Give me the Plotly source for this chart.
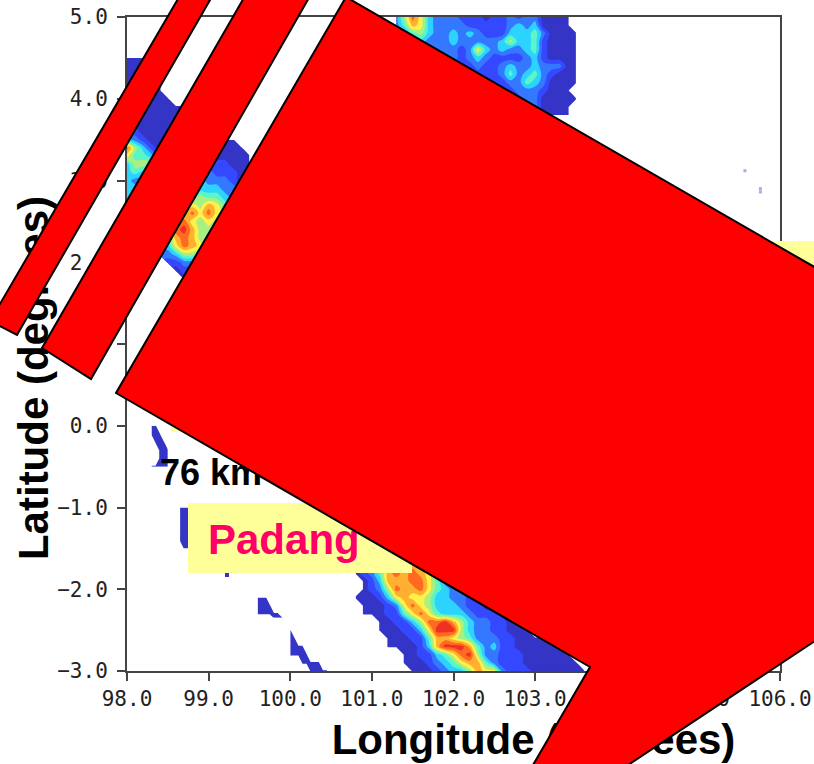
import plotly.graph_objects as go

_ = None
# ---- readings of the gridded field (rainfall class 1..10) ----
west_lon = [98.0, 98.1, 98.2, 98.3, 98.4, 98.5, 98.6, 98.7]
west_lat = [4.5, 4.4, 4.3, 4.2, 4.1, 4.0, 3.9, 3.8, 3.7, 3.6, 3.5, 3.4, 3.3, 3.2, 3.1, 3.0, 2.9, 2.8, 2.7]
west_z = [
    [1, 1, 1, 1, _, _, _, _],
    [1, 1, 1, 1, _, _, _, _],
    [1, 1, 1, 1, _, _, _, _],
    [1, 1, 1, 1, 1, _, _, _],
    [1, 1, 1, 1, 1, _, _, _],
    [1, 1, 1, 1, 1, 1, _, _],
    [1, 1, 1, 1, 1, 1, 1, 1],
    [1, 1, 1, 1, 1, 1, 1, 1],
    [1, 1, 1, 1, 1, 1, 1, 1],
    [1, 2, 1, 1, 1, 1, 1, 1],
    [4, 3, 2, 1, 1, 1, 1, _],
    [9, 6, 4, 2, 1, 1, _, _],
    [7, 5, 5, 4, 2, 2, _, _],
    [4, 6, 6, 6, 3, _, _, _],
    [4, 5, 4, 3, _, _, _, _],
    [4, 3, 3, _, _, _, _, _],
    [4, 4, _, _, _, _, _, _],
    [4, 3, _, _, _, _, _, _],
    [3, 3, _, _, _, _, _, _],
]

mid_lon = [98.4, 98.5, 98.6, 98.7, 98.8, 98.9, 99.0, 99.1, 99.2, 99.3, 99.4, 99.5]
mid_lat = [3.5, 3.4, 3.3, 3.2, 3.1, 3.0, 2.9, 2.8, 2.7, 2.6, 2.5, 2.4, 2.3, 2.2, 2.1, 2.0, 1.9, 1.8]
mid_z = [
    [_, _, _, _, _, _, _, 1, 1, 1, _, _],
    [_, _, _, _, _, _, 1, 1, 1, 1, 1, _],
    [_, _, _, _, _, 1, 1, 1, 1, 1, 1, 1],
    [_, _, _, _, _, 2, 2, 2, 2, 1, 1, 1],
    [_, _, _, _, 3, 3, 3, 2, 2, 2, 1, 1],
    [_, _, _, _, 4, 4, 3, 3, 3, 2, 1, _],
    [_, _, _, _, 5, 4, 4, 4, 3, 3, _, _],
    [_, _, _, 5, 5, 6, 5, 5, 4, 3, _, _],
    [_, _, _, 6, 7, 6, 8, 7, 5, _, _, _],
    [_, _, _, 7, 9, 7, 9, 7, 6, _, _, _],
    [_, _, 8, 9, 7, 6, 7, 6, _, _, _, _],
    [_, _, 9, 10, 8, 6, 6, 5, _, _, _, _],
    [_, 5, 8, 9, 8, 6, 6, _, _, _, _, _],
    [_, 4, 7, 9, 8, 7, _, _, _, _, _, _],
    [3, 3, 4, 6, 6, 5, _, _, _, _, _, _],
    [_, 2, 2, 3, 3, 3, _, _, _, _, _, _],
    [_, _, 1, 2, 2, _, _, _, _, _, _, _],
    [_, _, _, 1, 1, _, _, _, _, _, _, _],
]

north_lon = [101.3 + 0.1 * i for i in range(23)]
north_lat = [5.0, 4.9, 4.8, 4.7, 4.6, 4.5, 4.4, 4.3, 4.2, 4.1, 4.0, 3.9, 3.8]
north_z = [
    [3, 6, 9, 7, 4, 3, 3, 3, 2, 2, 2, 1, 2, 2, 3, 2, 3, 3, 1, 1, 1, 1, _],
    [3, 5, 8, 7, 4, 3, 3, 3, 3, 2, 2, 2, 2, 2, 3, 4, 3, 4, 1, 1, 1, 1, _],
    [3, 3, 5, 6, 4, 3, 3, 4, 3, 4, 3, 2, 2, 2, 4, 4, 4, 5, 3, 1, 1, 1, 1],
    [2, 3, 3, 4, 3, 3, 3, 4, 3, 3, 3, 3, 3, 4, 6, 4, 4, 5, 2, 1, 1, 1, 1],
    [2, 2, 2, 3, 3, 3, 3, 3, 2, 3, 7, 4, 3, 4, 3, 3, 4, 5, 2, 1, 1, 1, 1],
    [2, 2, 2, 2, 2, 2, 2, 3, 2, 3, 4, 3, 2, 2, 2, 2, 3, 4, 2, 1, 1, 1, 1],
    [2, 2, 2, 2, 2, 2, 2, 2, 2, 2, 3, 2, 2, 3, 4, 3, 3, 4, 3, 3, 3, 1, 1],
    [2, 2, 2, 2, 2, 2, 2, 2, 2, 2, 2, 2, 2, 3, 5, 3, 4, 5, 3, 2, 1, 1, 1],
    [2, 2, 2, 2, 2, 2, 2, 2, 2, 2, 2, 2, 2, 2, 3, 3, 5, 4, 3, 1, 1, 1, 1],
    [2, 2, 2, 2, 2, 2, 2, 2, 2, 2, 2, 2, 2, 2, 2, 3, 3, 3, 2, 1, 1, 1, _],
    [_, _, _, _, _, _, _, _, _, _, _, 2, 2, 2, 2, 2, 3, 3, 1, 1, 1, 1, 1],
    [_, _, _, _, _, _, _, _, _, _, _, _, _, _, 2, 2, 2, 3, 1, 1, 1, 1, _],
    [_, _, _, _, _, _, _, _, _, _, _, _, _, _, _, _, _, 2, 1, 1, 1, 1, _],
]

south_lon = [100.8 + 0.1 * i for i in range(29)]
south_lat = [-1.7, -1.8, -1.9, -2.0, -2.1, -2.2, -2.3, -2.4, -2.5, -2.6, -2.7, -2.8, -2.9, -3.0]
south_z = [
    [1, 2, 3, 5, 7, 8, 8, 8, 8, 7, 5, 3, 2, 2, 1, 1, _, _, _, _, _, _, _, _, _, _, _, _, _],
    [1, 2, 3, 5, 8, 9, 8, 9, 8, 7, 5, 3, 2, 2, 1, 1, _, _, _, _, _, _, _, _, _, _, _, _, _],
    [_, 1, 2, 4, 8, 8, 8, 9, 9, 7, 5, 3, 3, 2, 2, 1, _, _, _, _, _, _, _, _, _, _, _, _, _],
    [_, 1, 2, 3, 6, 9, 8, 8, 9, 7, 5, 4, 3, 2, 2, 1, 1, _, _, _, _, _, _, _, _, _, _, _, _],
    [1, 1, 1, 2, 4, 7, 8, 7, 7, 6, 4, 4, 3, 3, 2, 2, 1, _, _, _, _, _, _, _, _, _, _, _, _],
    [_, 1, 1, 1, 2, 3, 7, 9, 7, 6, 4, 4, 4, 3, 2, 2, 1, 1, _, _, _, _, _, _, _, _, _, _, _],
    [_, 1, 1, 1, 2, 2, 5, 7, 9, 7, 5, 4, 4, 4, 3, 2, 2, 2, 1, 1, _, _, _, _, _, _, _, _, _],
    [_, _, _, 1, 1, 2, 2, 4, 6, 9, 9, 10, 8, 6, 4, 3, 3, 2, 2, 1, 1, _, _, _, _, _, _, _, _],
    [_, _, _, 1, 1, 1, 2, 2, 4, 7, 10, 10, 10, 6, 4, 3, 3, 2, 2, 1, 1, 1, _, _, _, _, _, _, _],
    [_, _, _, _, 1, 1, 1, 2, 2, 5, 8, 8, 7, 6, 5, 3, 3, 3, 2, 2, 1, 1, 1, 1, _, _, _, _, _],
    [_, _, _, _, 1, 1, 1, 1, 2, 4, 8, 10, 10, 10, 8, 5, 3, 4, 2, 2, 1, 1, 1, 1, 1, 1, _, _, _],
    [_, _, _, _, _, _, 1, 1, 2, 2, 4, 5, 7, 9, 10, 6, 3, 3, 2, 2, 2, 1, 1, 1, 1, 1, 1, _, _],
    [_, _, _, _, _, _, 1, 1, 1, 2, 3, 4, 5, 7, 8, 8, 5, 3, 2, 2, 2, 1, 1, 1, 1, 1, 1, 1, _],
    [_, _, _, _, _, _, _, 1, 1, 1, 2, 3, 4, 4, 6, 8, 7, 7, 3, 2, 2, 2, 1, 1, 1, 1, 1, 1, 1],
]

# small coastal fragments
blob_a_lon = [98.3, 98.35, 98.4, 98.45, 98.5]
blob_a_lat = [0.0, -0.1, -0.2, -0.3, -0.4, -0.5]
blob_a_z = [[1, 1, _, _, _], [1, 1, 1, _, _], [_, 1, 1, 1, _], [_, _, 1, 1, 1], [_, _, 1, 1, 1], [1, 1, 1, 1, 1]]
blob_b_lon = [98.65, 98.7, 98.75, 98.8]
blob_b_lat = [-1.0, -1.1, -1.2, -1.3, -1.4, -1.5]
blob_b_z = [[1, 1, 1, 1], [1, 1, 1, 1], [1, 1, 1, 1], [1, 1, 1, 1], [1, 1, 1, 1], [_, 1, 1, 1]]
blob_c_lon = [99.6, 99.65, 99.7, 99.75, 99.8, 99.85, 99.9]
blob_c_lat = [-2.1, -2.2, -2.3, -2.35]
blob_c_z = [
    [1, 1, 1, _, _, _, _],
    [1, 1, 1, 1, _, _, _],
    [1, 1, 1, 1, 1, 1, _],
    [_, _, _, _, 1, 1, 1],
]
blob_d_lon = [100.0, 100.05, 100.1, 100.15, 100.2, 100.25, 100.3, 100.35, 100.4, 100.45]
blob_d_lat = [-2.5, -2.6, -2.7, -2.8, -2.9, -3.0]
blob_d_z = [
    [1, _, _, _, _, _, _, _, _, _],
    [1, 1, _, _, _, _, _, _, _, _],
    [1, 1, 1, 1, _, _, _, _, _, _],
    [1, 1, 1, 1, 1, _, _, _, _, _],
    [_, _, _, 1, 1, 1, 1, 1, _, _],
    [_, _, _, _, _, 1, 1, 1, 1, 1],
]
blob_e_lon = [99.2, 99.25]
blob_e_lat = [-1.75, -1.85]
blob_e_z = [[1, 1], [1, 1]]
speck_lon = [105.57, 105.76, 105.76]
speck_lat = [3.12, 2.9, 2.86]

x_ticks = [98, 99, 100, 101, 102, 103, 104, 105, 106]
y_ticks = [5, 4, 3, 2, 1, 0, -1, -2, -3]
class_colors = ["#3434C6", "#3348FF", "#3478FF", "#2CD3FF", "#5CF5C8", "#A8F080", "#FFF04A", "#FFB030", "#FF6A20", "#F03020"]

W, H = 814, 764
L, R, T, B = 127, 780, 17, 671
fx = lambda px: (px - L) / (R - L)
fy = lambda py: 1 - (py - T) / (B - T)


def path(points):
    return "M " + " L ".join(f"{fx(x):.5f} {fy(y):.5f}" for x, y in points) + " Z"


scale = [[i / 9, c] for i, c in enumerate(class_colors)]
fig = go.Figure()
for lon, lat, z in [
    (west_lon, west_lat, west_z), (mid_lon, mid_lat, mid_z), (north_lon, north_lat, north_z),
    (south_lon, south_lat, south_z), (blob_a_lon, blob_a_lat, blob_a_z), (blob_b_lon, blob_b_lat, blob_b_z),
    (blob_c_lon, blob_c_lat, blob_c_z), (blob_d_lon, blob_d_lat, blob_d_z), (blob_e_lon, blob_e_lat, blob_e_z),
]:
    fig.add_trace(go.Contour(
        x=lon, y=lat, z=z, zmin=1, zmax=10, colorscale=scale, showscale=False, connectgaps=False,
        autocontour=False, contours=dict(coloring="fill", start=1.5, end=9.5, size=1, showlines=False),
        line=dict(width=0), hoverinfo="skip",
    ))
fig.add_trace(go.Scatter(x=speck_lon, y=speck_lat, mode="markers", hoverinfo="skip",
                         marker=dict(symbol="square", size=3, color="#A8A8F0", line=dict(width=0))))

TITLE_FONT = dict(family="Liberation Sans", size=42, color="black", weight="bold")
NOFILL = "rgba(0,0,0,0)"
shapes = [
    dict(type="rect", xref="paper", yref="paper", x0=fx(772), x1=fx(830), y0=fy(241), y1=fy(330), fillcolor="#FFFF99", line_width=0, layer="above"),
    dict(type="rect", xref="paper", yref="paper", x0=fx(171), x1=fx(260), y0=fy(390), y1=fy(432), fillcolor="#FFFF99", line_width=0, layer="above"),
    dict(type="rect", xref="paper", yref="paper", x0=fx(188), x1=fx(412), y0=fy(503), y1=fy(573), fillcolor="#FFFF99", line_width=0, layer="above"),
    dict(type="rect", xref="paper", yref="paper", x0=fx(205), x1=fx(400), y0=fy(500), y1=fy(570), fillcolor=NOFILL, line_width=0, layer="above",
         label=dict(text="Padang", textposition="middle left", padding=0,
                    font=dict(family="Liberation Sans", size=42, color="#FF0066", weight="bold"))),
    dict(type="rect", xref="paper", yref="paper", x0=fx(157), x1=fx(320), y0=fy(451), y1=fy(487), fillcolor=NOFILL, line_width=0, layer="above",
         label=dict(text="76 km", textposition="middle left", padding=0,
                    font=dict(family="Liberation Sans", size=36, color="black", weight="bold"))),
    dict(type="rect", xref="paper", yref="paper", x0=fx(9), x1=fx(49), y0=fy(186), y1=fy(570), fillcolor=NOFILL, line_width=0, layer="above",
         label=dict(text="Latitude (degrees)", textposition="middle center", textangle=-90, padding=0, font=TITLE_FONT)),
    dict(type="rect", xref="paper", yref="paper", x0=fx(330), x1=fx(737), y0=fy(714), y1=fy(756), fillcolor=NOFILL, line_width=0, layer="above",
         label=dict(text="Longitude (degrees)", textposition="middle center", padding=0, font=TITLE_FONT)),
]
red_polys = [
    [(-10, 321), (17, 335), (210, 0), (214, -8), (182, -8)],
    [(42, 348), (91, 379), (310, -4), (245, -4)],
    [(346, -3), (830, 276), (830, 631), (610, 777), (526, 777), (590, 667), (116, 393)],
]
for poly in red_polys:
    shapes.append(dict(type="path", xref="paper", yref="paper", path=path(poly), fillcolor="#FF0000",
                       line=dict(color="black", width=2), layer="above"))

axis_common = dict(showgrid=False, zeroline=False, showline=True, mirror=True, linecolor="#444444", linewidth=2,
                   ticks="outside", ticklen=8, tickwidth=2, tickcolor="#444444", tickformat=".1f", automargin=False,
                   tickfont=dict(family="DejaVu Sans Mono", size=21, color="#222222"))
fig.update_layout(
    width=W, height=H, autosize=False, showlegend=False,
    margin=dict(l=L, r=W - R, t=T, b=H - B, pad=0),
    paper_bgcolor="white", plot_bgcolor="white", shapes=shapes,
    xaxis=dict(range=[98, 106], tickvals=x_ticks, layer="above traces", **axis_common),
    yaxis=dict(range=[-3, 5], tickvals=y_ticks, layer="above traces", ticklabelstandoff=5, **axis_common),
)
fig.write_html("out.html", config=dict(displayModeBar=False),
               post_script="document.body.style.margin='0';document.documentElement.style.overflow='hidden';")
